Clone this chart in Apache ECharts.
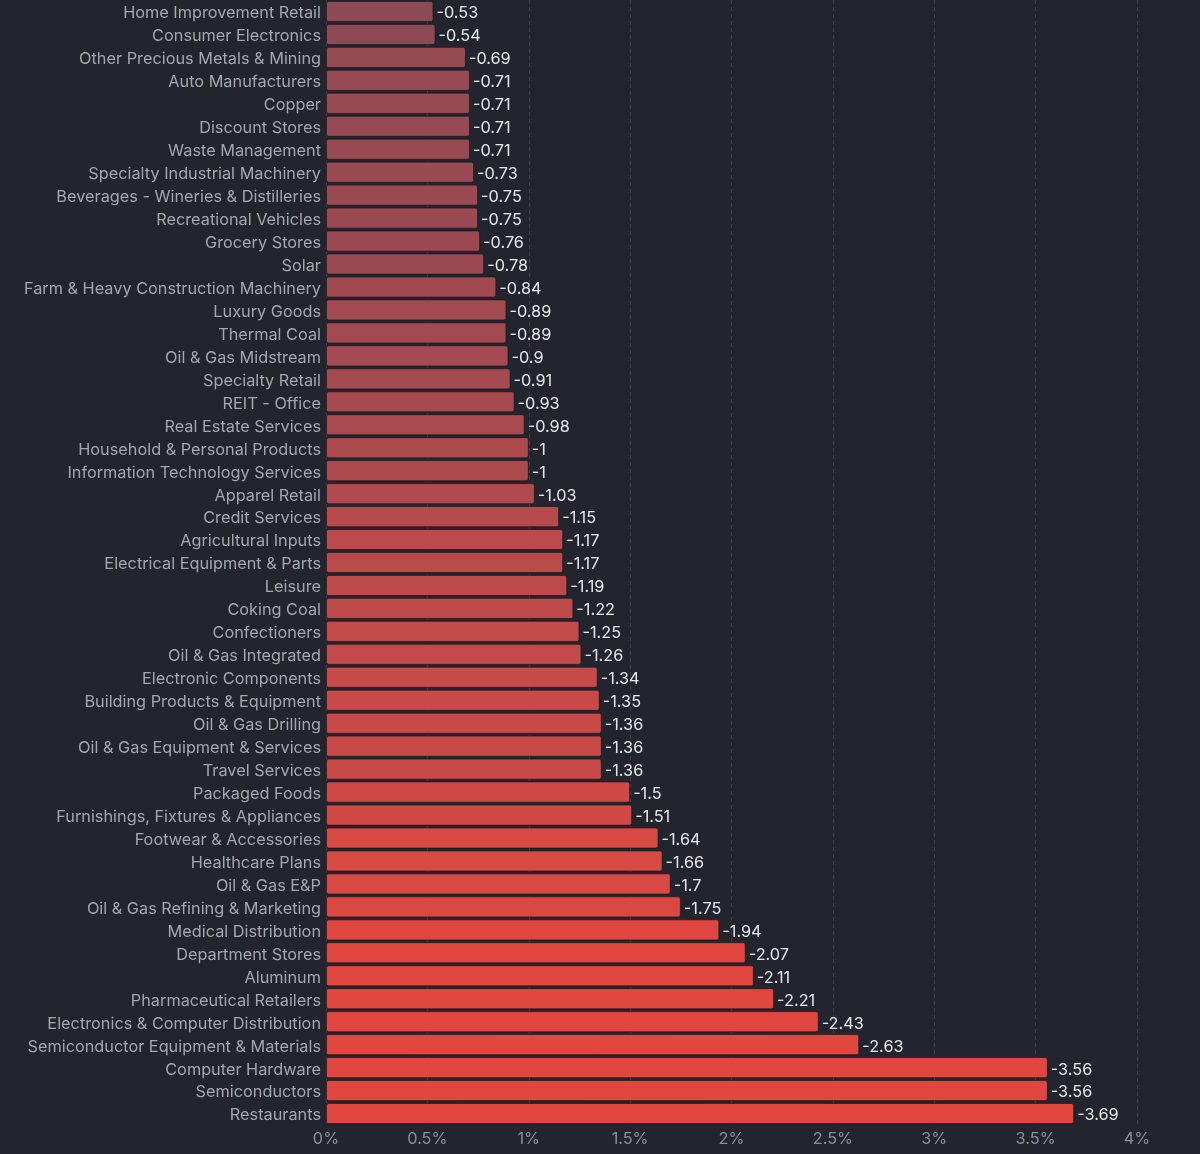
<!DOCTYPE html>
<html>
<head>
<meta charset="utf-8">
<script src="https://cdn.jsdelivr.net/npm/echarts@6/dist/echarts.min.js"></script>
<style>
html,body{margin:0;padding:0;background:#22252e;}
#chart{width:1200px;height:1154px;}
</style>
</head>
<body>
<div id="chart"></div>
<script>
const categories = [
"Home Improvement Retail","Consumer Electronics","Other Precious Metals & Mining","Auto Manufacturers","Copper",
"Discount Stores","Waste Management","Specialty Industrial Machinery","Beverages - Wineries & Distilleries","Recreational Vehicles",
"Grocery Stores","Solar","Farm & Heavy Construction Machinery","Luxury Goods","Thermal Coal",
"Oil & Gas Midstream","Specialty Retail","REIT - Office","Real Estate Services","Household & Personal Products",
"Information Technology Services","Apparel Retail","Credit Services","Agricultural Inputs","Electrical Equipment & Parts",
"Leisure","Coking Coal","Confectioners","Oil & Gas Integrated","Electronic Components",
"Building Products & Equipment","Oil & Gas Drilling","Oil & Gas Equipment & Services","Travel Services","Packaged Foods",
"Furnishings, Fixtures & Appliances","Footwear & Accessories","Healthcare Plans","Oil & Gas E&P","Oil & Gas Refining & Marketing",
"Medical Distribution","Department Stores","Aluminum","Pharmaceutical Retailers","Electronics & Computer Distribution",
"Semiconductor Equipment & Materials","Computer Hardware","Semiconductors","Restaurants"
];
const changes = [
-0.53,-0.54,-0.69,-0.71,-0.71,
-0.71,-0.71,-0.73,-0.75,-0.75,
-0.76,-0.78,-0.84,-0.89,-0.89,
-0.9,-0.91,-0.93,-0.98,-1,
-1,-1.03,-1.15,-1.17,-1.17,
-1.19,-1.22,-1.25,-1.26,-1.34,
-1.35,-1.36,-1.36,-1.36,-1.5,
-1.51,-1.64,-1.66,-1.7,-1.75,
-1.94,-2.07,-2.11,-2.21,-2.43,
-2.63,-3.56,-3.56,-3.69
];
const xTicks = [0,0.5,1,1.5,2,2.5,3,3.5,4];

const chart = echarts.init(document.getElementById('chart'), null, {renderer:'canvas'});
const FONT = 'Inter';
const FS = 16.3;
chart.setOption({
  backgroundColor:'#22252e',
  animation:false,
  grid:{left:326,right:63,top:0,bottom:29,containLabel:false},
  visualMap:{
    show:false, type:'continuous', dimension:0, seriesIndex:0,
    min:0.5, max:2.0,
    inRange:{color:['#8a4a55','#a24a50','#c24a4a','#d84944','#e2473f']}
  },
  xAxis:{
    type:'value', min:xTicks[0], max:xTicks[xTicks.length-1], interval:0.5,
    axisLine:{show:false}, axisTick:{show:false},
    axisLabel:{color:'#8b8f9a', fontFamily:FONT, fontSize:FS, margin:6,
      formatter:v=>v+'%'},
    splitLine:{show:true, lineStyle:{color:'#3b3f49', type:[4,3], width:1}}
  },
  yAxis:{
    type:'category', data:categories, inverse:true,
    axisLine:{show:false}, axisTick:{show:false},
    axisLabel:{margin:5, formatter:v=>'{a|'+v+'}',
      rich:{a:{color:'#a3a7b2', fontFamily:FONT, fontSize:FS, padding:[4,0,0,0]}}}
  },
  series:[{
    type:'bar',
    data:changes.map(v=>Math.abs(v)),
    barCategoryGap:'8%',
    itemStyle:{borderRadius:2, borderColor:'rgba(20,20,26,0.6)', borderWidth:1},
    label:{show:true, position:'right', distance:3,
      formatter:p=>'{a|'+String(changes[p.dataIndex])+'}',
      rich:{a:{color:'#e6e7ea', fontFamily:FONT, fontSize:FS, padding:[4,0,0,0]}}}
  }]
});
</script>
</body>
</html>
